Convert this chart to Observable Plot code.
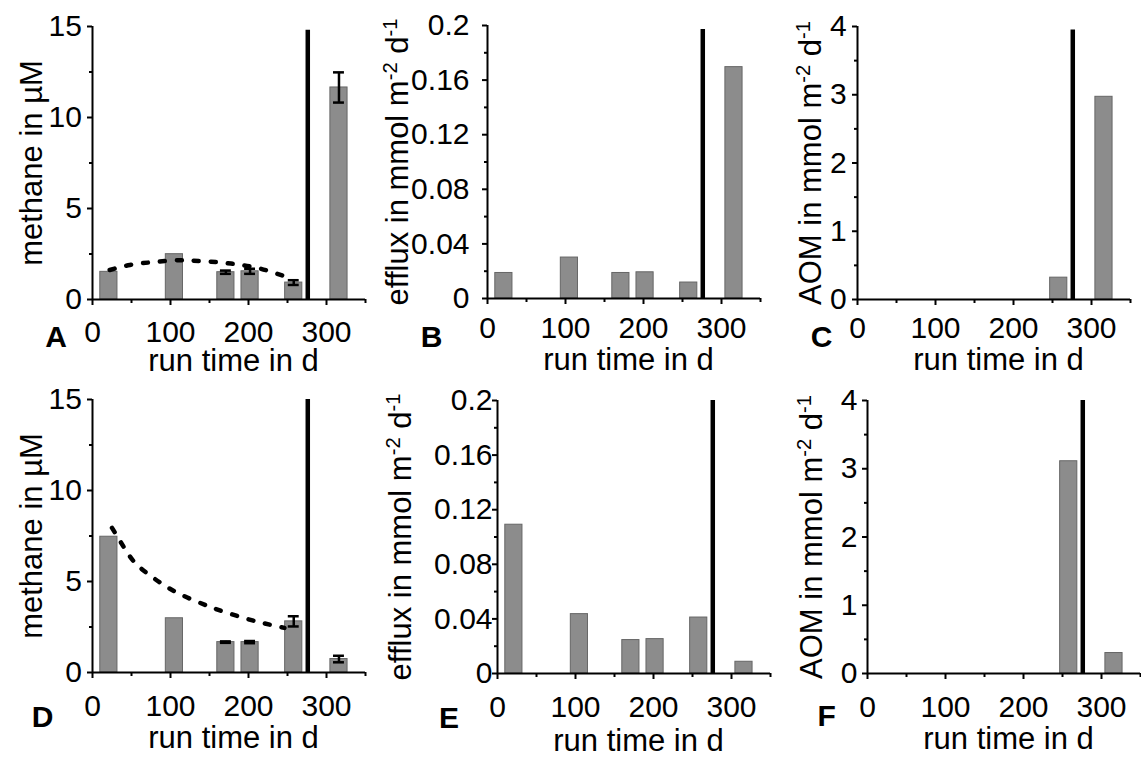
<!DOCTYPE html>
<html><head><meta charset="utf-8">
<script src="https://cdn.jsdelivr.net/npm/d3@7"></script>
<script src="https://cdn.jsdelivr.net/npm/@observablehq/plot@0.6"></script>
<style>
body{margin:0;background:#fff;}
#fig{position:relative;width:1141px;height:758px;overflow:hidden;background:#fff;font-family:"Liberation Sans",Arial,sans-serif;}
#fig svg{position:absolute;}
</style></head><body><div id="fig"></div>
<script>
// ---- data ----
const days = [21, 105, 171, 202, 258, 316];
const switchDay = 276;
const methaneTop = [1.52, 2.49, 1.5, 1.55, 0.93, 11.65];
const methaneTopErr = [null, null, 0.09, 0.14, 0.13, 0.83];
const effluxTop = [0.0187, 0.030, 0.0187, 0.0192, 0.0117, 0.1695];
const aomTop = [0, 0, 0, 0, 0.32, 2.97];
const methaneBottom = [7.46, 2.98, 1.67, 1.67, 2.81, 0.74];
const methaneBottomErr = [null, null, 0.04, 0.06, 0.28, 0.18];
const effluxBottom = [0.109, 0.0435, 0.0245, 0.0252, 0.041, 0.0086];
const aomBottom = [0, 0, 0, 0, 3.11, 0.30];
const trendTopDay = [22, 48, 72, 95, 118, 140, 164, 186, 209, 232, 256];
const trendTopValue = [1.62, 1.9, 2.03, 2.12, 2.16, 2.1, 2.04, 1.92, 1.76, 1.48, 1.15];
const trendBottomDay = [25, 40, 53, 70, 90, 110, 132, 153, 174, 197, 219, 246];
const trendBottomValue = [7.95, 6.9, 6.1, 5.45, 4.85, 4.35, 3.93, 3.57, 3.26, 2.96, 2.71, 2.45];
const xTicks = [0, 100, 200, 300];
const xMinor = [50, 150, 250, 350];
const methaneTicks = [0, 5, 10, 15];
const methaneMinor = [2.5, 7.5, 12.5];
const effluxTicks = [0, 0.04, 0.08, 0.12, 0.16, 0.2];
const effluxMinor = [0.02, 0.06, 0.10, 0.14, 0.18];
const aomTicks = [0, 1, 2, 3, 4];
const aomMinor = [0.5, 1.5, 2.5, 3.5];
const xLabel = "run time in d";
const methaneLabel = "methane in µM";
const effluxLabel = "efflux in mmol m^{-2} d^{-1}";
const aomLabel = "AOM in mmol m^{-2} d^{-1}";

// ---- layout ----
const FW = 273, FH = 273, ML = 110, MR = 14, MT = 12, MB = 95;
const FONT = '"Liberation Sans", Arial, sans-serif';

const panels = [
  {id:"A", left:92.3, top:26, values:methaneTop, err:methaneTopErr, trend:[trendTopDay,trendTopValue], yMax:15, ticks:methaneTicks, minor:methaneMinor, label:methaneLabel, yPad:10.6, yLab:60.5, xPad:20.7, xLab:62, letter:[-25.6,38], ruleTop:14.8},
  {id:"B", left:486.7, top:25, values:effluxTop, yMax:0.2, ticks:effluxTicks, minor:effluxMinor, label:effluxLabel, yPad:18, yLab:89.3, xPad:18.4, xLab:62, letter:[-45,39], ruleTop:0.197},
  {id:"C", left:856.7, top:26, values:aomTop, yMax:4, ticks:aomTicks, minor:aomMinor, label:aomLabel, yPad:10.7, yLab:46.6, xPad:17.4, xLab:61, letter:[-25,38], ruleTop:3.95},
  {id:"D", left:92.3, top:399.3, values:methaneBottom, err:methaneBottomErr, trend:[trendBottomDay,trendBottomValue], yMax:15, ticks:methaneTicks, minor:methaneMinor, label:methaneLabel, yPad:10.6, yLab:60.5, xPad:22.3, xLab:66, letter:[-39,44.4], ruleTop:15},
  {id:"E", left:496.7, top:400, values:effluxBottom, yMax:0.2, ticks:effluxTicks, minor:effluxMinor, label:effluxLabel, yPad:5, yLab:96.7, xPad:22.3, xLab:67.7, letter:[-38.4,44.4], ruleTop:0.2},
  {id:"F", left:866.7, top:400, values:aomBottom, yMax:4, ticks:aomTicks, minor:aomMinor, label:aomLabel, yPad:10, yLab:55, xPad:22.3, xLab:66, letter:[-31.7,42.7], ruleTop:4}
];

const fig = document.getElementById("fig");
const half = 11, cap = 7;

function fmt(d){ return String(d); }

for (const p of panels) {
  const rows = days.map((d,i) => ({day:d, value:p.values[i], err: p.err ? p.err[i] : null}));
  const bars = rows.filter(r => r.value > 0);
  const errs = rows.filter(r => r.err != null);
  const trend = p.trend ? p.trend[0].map((d,i) => ({day:d, value:p.trend[1][i]})) : [];
  const marks = [
    Plot.rectY(bars, {x1: d => d.day - half, x2: d => d.day + half, y1: 0, y2: "value", fill:"#8c8c8c", stroke:"#666666", strokeWidth:1}),
    Plot.ruleX(errs, {x:"day", y1: d => d.value - d.err, y2: d => d.value + d.err, stroke:"#000", strokeWidth:2.5}),
    Plot.ruleY(errs, {y: d => d.value + d.err, x1: d => d.day - cap, x2: d => d.day + cap, stroke:"#000", strokeWidth:2.5}),
    Plot.ruleY(errs, {y: d => d.value - d.err, x1: d => d.day - cap, x2: d => d.day + cap, stroke:"#000", strokeWidth:2.5}),
    Plot.line(trend, {x:"day", y:"value", curve:"natural", stroke:"#000", strokeWidth:4.5, strokeDasharray:"5,12", strokeLinecap:"round"}),
    Plot.ruleX([switchDay], {x: d => d, y1: 0, y2: p.ruleTop, stroke:"#000", strokeWidth:4.5}),
    Plot.ruleY([0], {x1:0, x2:350, stroke:"#000", strokeWidth:2}),
    Plot.ruleX([0], {y1:0, y2:p.yMax, stroke:"#000", strokeWidth:2}),
    Plot.axisX({ticks:xTicks, tickSize:6, tickPadding:p.xPad - 6, fontSize:30, strokeWidth:2, tickFormat:fmt, label:null}),
    Plot.axisX({ticks:xMinor, tickSize:4, tickFormat:() => "", strokeWidth:2, label:null}),
    Plot.axisY({ticks:p.ticks, tickSize:5, tickPadding:p.yPad - 5, fontSize:30, strokeWidth:2, tickFormat:fmt, label:null}),
    Plot.axisY({ticks:p.minor, tickSize:3, tickFormat:() => "", strokeWidth:2, label:null}),
    Plot.text([p.label], {text: d => d, frameAnchor:"left", textAnchor:"middle", lineAnchor:"middle", dx:-p.yLab, rotate:-90, fontSize:31, fill:"#000"}),
    Plot.text([xLabel], {text: d => d, frameAnchor:"bottom", textAnchor:"middle", lineAnchor:"middle", dx:4.5, dy:p.xLab, fontSize:31, fill:"#000"}),
    Plot.text([p.id], {text: d => d, frameAnchor:"bottom-left", textAnchor:"end", lineAnchor:"middle", dx:p.letter[0], dy:p.letter[1], fontSize:30, fontWeight:"bold", fill:"#000"})
  ];
  const svg = Plot.plot({
    width: ML + FW + MR, height: MT + FH + MB,
    marginLeft: ML, marginRight: MR, marginTop: MT, marginBottom: MB,
    x: {domain:[0,350]},
    y: {domain:[0,p.yMax]},
    style: {fontFamily: FONT, overflow:"visible", background:"none", color:"#000"},
    marks
  });
  svg.style.left = (p.left - ML) + "px";
  svg.style.top = (p.top - MT) + "px";
  // superscripts in axis labels
  d3.select(svg).selectAll("text").each(function(){
    const t = this.textContent;
    if (!t.includes("^{")) return;
    const parts = t.split(/\^\{([^}]*)\}/);
    this.textContent = "";
    parts.forEach((s,i) => {
      if (!s) return;
      const ts = d3.select(this).append("tspan").text(s);
      if (i % 2 === 1) ts.attr("baseline-shift","super").attr("font-size","65%");
    });
  });
  fig.appendChild(svg);
}
</script></body></html>
